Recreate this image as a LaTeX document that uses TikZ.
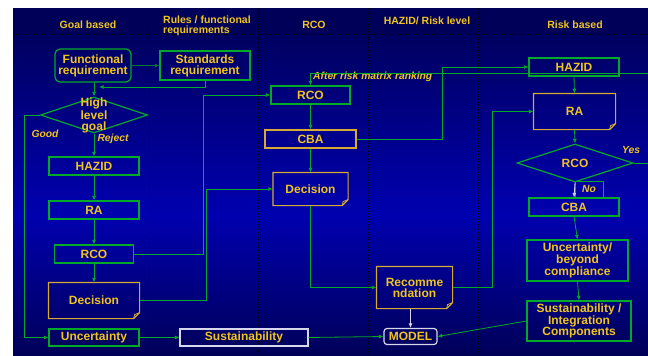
\documentclass[tikz,border=0pt]{standalone}
\usepackage{fontspec}
\setmainfont{Liberation Sans}
\usetikzlibrary{shapes.geometric,arrows.meta}
\definecolor{txt}{RGB}{240,196,30}
\definecolor{grn}{RGB}{0,170,40}
\definecolor{dgrn}{RGB}{0,120,50}
\definecolor{gold}{RGB}{215,170,50}
\definecolor{wht}{RGB}{215,215,235}
\definecolor{bgtop}{RGB}{0,0,96}
\definecolor{bghead}{RGB}{0,0,88}
\definecolor{bgmid}{RGB}{0,0,175}
\definecolor{bgbot}{RGB}{0,0,88}
\begin{document}
\begin{tikzpicture}[x=1pt,y=-1pt,
 bx/.style={draw=grn, line width=1.2pt, inner sep=0pt, align=center, text=txt, font=\bfseries\fontsize{12}{11}\selectfont},
 gbx/.style={bx, draw=gold},
 wbx/.style={bx, draw=wht},
 nt/.style={bx, draw=none},
 arr/.style={draw=grn, line width=0.8pt, -{Latex[length=4.5pt,width=4pt]}},
 arrw/.style={arr, draw=wht},
 hdr/.style={text=txt, font=\bfseries\fontsize{10.5}{10}\selectfont, inner sep=0pt},
 lbl/.style={text=txt, font=\bfseries\itshape\fontsize{10.3}{10}\selectfont, inner sep=0pt},
 div/.style={black, dotted, line width=0.6pt}
]
\useasboundingbox (0,0) rectangle (648,356);
\fill[white] (0,0) rectangle (648,356);
\fill[bghead] (13,8) rectangle (648,34);
\shade[top color=bgtop, bottom color=bgmid] (13,34) rectangle (648,215);
\shade[top color=bgmid, bottom color=bgbot] (13,214.5) rectangle (648,356);
\draw[div] (13,34) -- (648,34);
\foreach \x in {149,258,368,478} \draw[div] (\x,8) -- (\x,356);

% headers
\node[hdr] (h1) at (88,25) {Goal based};
\node[hdr, align=left, anchor=west] (h2) at (163,26) {Rules / functional\\requirements};
\node[hdr] (h3) at (314,25) {RCO};
\node[hdr] (h4) at (427,21) {HAZID/ Risk level};
\node[hdr] (h5) at (575,25) {Risk based};

% column 1
\node[bx, rounded corners=5pt, minimum width=76pt, minimum height=33pt] (fr) at (93,65.5) {Functional\\requirement};
\node[bx, minimum width=90pt, minimum height=29pt] (sr) at (205,65.5) {Standards\\requirement};
\node[bx, shape=diamond, minimum width=107pt, minimum height=36pt] (hl) at (94,115) {};
\node[nt] (hlt) at (94,115.5) {High\\level\\goal};
\node[bx, minimum width=90pt, minimum height=18pt] (hz1) at (94,166) {HAZID};
\node[bx, minimum width=90pt, minimum height=18pt] (ra1) at (94,210) {RA};
\node[bx, minimum width=79pt, minimum height=18pt] (rco1) at (94,254) {RCO};
\node[nt, minimum width=90pt, minimum height=35pt] (dec1) at (94,300.5) {Decision};
\node[bx, minimum width=90pt, minimum height=17pt] (unc) at (94,337.5) {Uncertainty};
\node[wbx, minimum width=128pt, minimum height=17pt] (sus) at (244,337.5) {Sustainability};
\node[wbx, rounded corners=3pt, minimum width=53pt, minimum height=16pt] (model) at (410.5,336.5) {MODEL};

% column 3/4
\node[bx, minimum width=79pt, minimum height=18pt] (rco3) at (310.5,95) {RCO};
\node[gbx, minimum width=91pt, minimum height=18pt] (cba3) at (310.5,139) {CBA};
\node[nt, minimum width=74pt, minimum height=32pt] (dec3) at (310.5,189) {Decision};
\node[nt, minimum width=75pt, minimum height=41pt] (rec) at (414.5,287.5) {Recomme\\ndation};

% column 5
\node[bx, minimum width=90pt, minimum height=18pt] (hz5) at (574,67) {HAZID};
\node[nt, minimum width=81pt, minimum height=35pt] (ra5) at (574.5,111.5) {RA};
\node[bx, shape=diamond, minimum width=116pt, minimum height=38pt] (rco5) at (575,163) {};
\node[nt] (rco5t) at (575,163) {RCO};
\node[bx, line width=1pt, minimum width=28pt, minimum height=16pt, font=\bfseries\itshape\fontsize{10.3}{10}\selectfont] (no) at (589,189) {No};
\node[bx, minimum width=90pt, minimum height=18pt] (cba5) at (574,207) {CBA};
\node[bx, minimum width=101pt, minimum height=41pt] (ub) at (577.5,260.5) {Uncertainty/\\beyond\\compliance};
\node[bx, minimum width=104pt, minimum height=40pt] (si) at (579,321) {Sustainability /\\Integration\\Components};

% note outlines
\foreach \n in {dec1,dec3,rec,ra5}{
  \draw[gold, line width=1.2pt] (\n.north west) -- (\n.north east) -- ([yshift=6pt]\n.south east) -- ([xshift=-6pt]\n.south east) -- (\n.south west) -- cycle;
  \draw[gold, line width=0.8pt] ([yshift=6pt]\n.south east) -- ([xshift=-5pt,yshift=4pt]\n.south east) -- ([xshift=-6pt]\n.south east);
}

% labels
\node[lbl] (good) at (45,134) {Good};
\node[lbl] (rej) at (113,139) {Reject};
\node[lbl] (yes) at (631,150) {Yes};
\node[lbl, anchor=west] (after) at (313,77) {After risk matrix ranking};

% coordinates
\coordinate (e1) at (648,73);
\coordinate (e2) at (648,163);
\coordinate (fb) at (99,87);
\coordinate (gx) at (24,337.5);

% connectors
\draw[arr, draw=dgrn, line width=1.6pt] (fr.east) -- (sr.west);
\draw[arr] (sr.south) |- (fb);
\draw[arr] (hl.north |- fr.south) -- (hl.north);
\draw[arr] (hl.west) -| (gx) -- (unc.west);
\draw[arr] (hl.south) -- (hz1.north);
\draw[arr] (hz1.south) -- (ra1.north);
\draw[arr] (ra1.south) -- (rco1.north);
\draw[arr] (rco1.south) -- (dec1.north);
\draw[arr] (rco1.east) -- ++(69,0) |- (rco3.west);
\draw[arr] (dec1.east) -- ++(67,0) |- (dec3.west);
\draw[arr] (rco3.south) -- (cba3.north);
\draw[arr] (cba3.south) -- (dec3.north);
\draw[arr] (dec3.south) |- (rec.west);
\draw[arr] (cba3.east) -- ++(86,0) |- (hz5.west);
\draw[arr] (e1) -| (rco3.north);
\draw[arr] (rec.east) -- ++(40,0) |- (ra5.west);
\draw[arrw] (model.north |- rec.south) -- (model.north);
\draw[arr] (unc.east) -- (sus.west);
\draw[arr] (sus.east) -- (model.west);
\draw[arr] (si.west) -- (model.east);
\draw[arr] (hz5.south) -- (ra5.north);
\draw[arr] (ra5.south) -- (rco5.north);
\draw[grn, line width=0.8pt] (rco5.east) -- (e2);
\draw[arrw] (rco5.south) -- (cba5.north);
\draw[arr] (cba5.south) -- (ub.north);
\draw[arr] (ub.south) -- (si.north);
\end{tikzpicture}
\end{document}
